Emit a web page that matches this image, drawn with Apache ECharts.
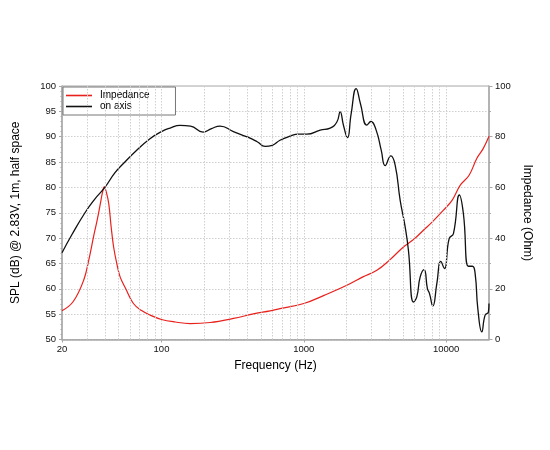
<!DOCTYPE html>
<html>
<head>
<meta charset="utf-8">
<script src="https://cdn.jsdelivr.net/npm/echarts@6/dist/echarts.min.js"></script>
<style>html,body{margin:0;padding:0;background:#fff;}#c{width:550px;height:450px;}</style>
</head>
<body>
<div id="c"></div>
<script>
// On-axis SPL (dB) : frequency (Hz) and level (dB)
const splFreq = [20,23.5,29,34,40,47,54,65,83,100,115,135,160,196,225,258,320,400,470,535,600,680,800,917,1051,1303,1532,1707,1800,1900,2026,2150,2332,2500,2773,2958,3222,3500,3728,4086,4383,4750,5152,5432,5890,6220,6564,7000,7390,7630,8060,8600,9170,9724,10495,11250,12395,13220,14336,15290,15980,16690,17800,18780,19810,20000];
const splVal  = [67.1,70.7,75,77.7,80,82.85,84.7,87,89.6,91,91.7,92.25,92.1,90.9,91.6,92.1,91,89.95,89,88.1,88.3,89.3,90.1,90.5,90.5,91.3,91.7,92.9,94.9,92.2,89.8,94.5,99.5,96.5,92.3,93,91.3,87.3,84.3,86.2,84.4,77.5,72.2,67.6,57.4,58.4,62.3,63.8,60,59.1,56.6,61,65.4,64,69.9,70.9,78.5,74.8,64.45,64.45,63,56.1,51.5,54.8,55.4,57.1];
// Impedance (Ohm) : frequency (Hz) and impedance (Ohm)
const impFreq = [20,24,28.4,31,33.3,35.3,37.2,38.5,39.6,40.8,42.6,44.3,46.1,48.5,51.2,56,63.5,72,83.4,100,125,159,220,320,450,580,680,1000,1400,2006,2600,3260,4000,5010,6000,6920,8000,9570,11000,12540,14500,16410,18200,20000];
const impVal  = [11.3,15,23.4,31.9,40.5,47,53.6,58,60.2,58.5,53.6,44.4,36.5,30,24.7,20.1,14.2,11.5,9.6,7.9,6.9,6.3,6.7,8.3,10.2,11.3,12.2,14.2,17.5,21.4,24.7,27.3,31.3,36.5,39.8,43.1,46.4,51,54.9,60.8,64.8,71.4,75.3,80.2];
// Axis tick labels and grid frequencies
const xLabelVals = [20,100,1000,10000];
const gridFreqs = [30,40,50,60,70,80,90,100,200,300,400,500,600,700,800,900,1000,2000,3000,4000,5000,6000,7000,8000,9000,10000];
const seriesNames = ['Impedance','on axis'];

const zip = (a,b) => a.map((v,i)=>[v,b[i]]);
const FONT = "'Liberation Sans', Arial, Helvetica, sans-serif";
const chart = echarts.init(document.getElementById('c'));
const axisLineStyle = {color:'#a8a8a8', width:1.5};
const tickStyle = {color:'#a8a8a8', width:1};
const gridLine = {color:'#cfcfcf', width:1, type:[1.5,1.5]};
const labelStyle = {fontFamily:FONT, fontSize:9.5, color:'#111'};
const nameStyle = {fontFamily:FONT, fontSize:12, color:'#000'};

chart.setOption({
  animation:false,
  textStyle:{fontFamily:FONT},
  grid:{left:62, right:61, top:86, bottom:110.5, show:true, borderColor:'#a8a8a8', borderWidth:1},
  legend:{
    left:63, top:87, orient:'vertical', itemGap:0, itemWidth:26, itemHeight:1.6, icon:'rect',
    padding:[3,26,3,3], borderColor:'#777', borderWidth:1, backgroundColor:'#fff',
    textStyle:{fontFamily:FONT, fontSize:10, color:'#000', lineHeight:11, padding:[0,0,0,3]},
    data:seriesNames
  },
  xAxis:{
    type:'log', logBase:10, min:20, max:20000,
    name:'Frequency (Hz)', nameLocation:'middle', nameGap:20,
    nameTextStyle:nameStyle,
    axisLine:{show:true, lineStyle:axisLineStyle},
    axisTick:{show:true, length:3, lineStyle:tickStyle, customValues:xLabelVals},
    axisLabel:Object.assign({margin:5, customValues:xLabelVals, formatter:v=>String(v)}, labelStyle),
    splitLine:{show:false}
  },
  yAxis:[{
    type:'value', min:50, max:100, interval:5, position:'left',
    name:'SPL (dB) @ 2.83V, 1m, half space', nameLocation:'middle', nameGap:40,
    nameTextStyle:nameStyle,
    axisLine:{show:true, lineStyle:axisLineStyle},
    axisTick:{show:true, length:3, lineStyle:tickStyle},
    minorTick:{show:true, splitNumber:5, length:1.5, lineStyle:tickStyle},
    axisLabel:Object.assign({margin:6}, labelStyle),
    splitLine:{show:true, lineStyle:gridLine}
  },{
    type:'value', min:0, max:100, interval:20, position:'right',
    name:'Impedance (Ohm)', nameLocation:'middle', nameGap:17, nameRotate:-90,
    nameTextStyle:nameStyle,
    axisLine:{show:true, lineStyle:axisLineStyle},
    axisTick:{show:true, length:3.5, lineStyle:tickStyle},
    minorTick:{show:true, splitNumber:2, length:2, lineStyle:tickStyle},
    axisLabel:Object.assign({margin:6}, labelStyle),
    splitLine:{show:false}
  }],
  series:[
    {
      name:'grid', type:'line', data:[], z:1, silent:true,
      markLine:{silent:true, symbol:'none', label:{show:false}, lineStyle:gridLine, animation:false,
        emphasis:{disabled:true}, data:gridFreqs.map(f=>({xAxis:f}))}
    },
    {
      name:seriesNames[0], type:'line', yAxisIndex:1, data:zip(impFreq,impVal),
      smooth:0.4, symbol:'none', z:3, lineStyle:{color:'#e8211d', width:1.2}, itemStyle:{color:'#e8211d'}
    },
    {
      name:seriesNames[1], type:'line', yAxisIndex:0, data:zip(splFreq,splVal),
      smooth:0.5, symbol:'none', z:4, lineStyle:{color:'#111', width:1.3}, itemStyle:{color:'#111'}
    }
  ]
});
</script>
</body>
</html>
